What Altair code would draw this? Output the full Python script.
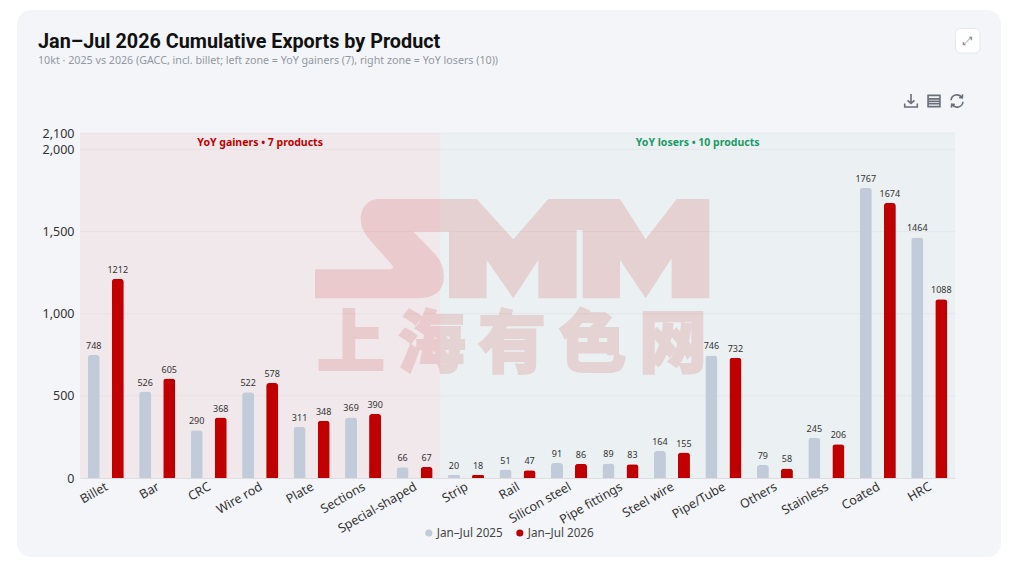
import altair as alt
import pandas as pd

categories = ["Billet", "Bar", "CRC", "Wire rod", "Plate", "Sections", "Special-shaped", "Strip", "Rail",
              "Silicon steel", "Pipe fittings", "Steel wire", "Pipe/Tube", "Others", "Stainless", "Coated", "HRC"]
values_2025 = [748, 526, 290, 522, 311, 369, 66, 20, 51, 91, 89, 164, 746, 79, 245, 1767, 1464]
values_2026 = [1212, 605, 368, 578, 348, 390, 67, 18, 47, 86, 83, 155, 732, 58, 206, 1674, 1088]
series_names = ["Jan–Jul 2025", "Jan–Jul 2026"]
series_colors = ["#C2CBD9", "#C00000"]
y_ticks = [0, 500, 1000, 1500, 2000, 2100]

W, H = 875, 345
OX, OY = 80, 133
FONT = "Noto Sans"
gain_end = W * 7 / 17


def px(x):
    return x - OX


def py(y):
    return y - OY


df = pd.DataFrame(
    [{"product": c, "series": series_names[0], "value": v} for c, v in zip(categories, values_2025)]
    + [{"product": c, "series": series_names[1], "value": v} for c, v in zip(categories, values_2026)]
)

x_enc = alt.X("product:N", sort=categories, scale=alt.Scale(domain=categories, paddingInner=0, paddingOuter=0),
              axis=alt.Axis(title=None, labelAngle=-30, labelAlign="right", labelBaseline="top", labelFontSize=12.5,
                            labelFont=FONT, labelColor="#333333", ticks=False, domainColor="#DDDDE3", labelPadding=2,
                            labelOffset=-2, labelOverlap=False, labelLimit=200, zindex=1, grid=False))
y_enc = alt.Y("value:Q", scale=alt.Scale(domain=[0, 2100], nice=False),
              axis=alt.Axis(title=None, values=y_ticks, format=",.0f", labelFontSize=12.5, labelFont=FONT,
                            labelColor="#333333", ticks=False, domain=False, grid=False, labelPadding=6, zindex=1,
                            labelOverlap=False, labelFlush=False))
off_enc = alt.XOffset("series:N", sort=series_names,
                      scale=alt.Scale(domain=series_names, paddingInner=0.5, paddingOuter=0.32))

card = alt.Chart().mark_rect(color="#F4F5F8", cornerRadius=14).encode(
    x=alt.value(px(17)), x2=alt.value(px(1001)), y=alt.value(py(10)), y2=alt.value(py(557)))

grid = alt.Chart(pd.DataFrame({"value": y_ticks[1:]})).mark_rule(color="#ECEDF1", strokeWidth=1).encode(y=y_enc)

zone_l = alt.Chart().mark_rect(color="#C00000", opacity=0.05).encode(
    x=alt.value(0), x2=alt.value(gain_end), y=alt.value(0), y2=alt.value(H))
zone_r = alt.Chart().mark_rect(color="#1A7F5A", opacity=0.04).encode(
    x=alt.value(gain_end), x2=alt.value(W), y=alt.value(0), y2=alt.value(H))

# SMM logo, traced in 3x crop coordinates of the watermark
smm_path = ("M240,57L530,57L640,178L745,57L960,57L1037,178L1130,57L1228,57L1228,355L1115,355L1115,235L1037,355"
            "L960,240L960,355L848,355L848,150L830,150L830,355L715,355L715,240L640,355L560,240L560,355L447,355"
            "L447,155L340,155L405,222Q432,252 432,290Q430,355 350,355L45,355L45,268L265,268Q290,268 270,248"
            "L205,175Q180,145 182,110Q190,57 240,57Z")
logo_half = 600
cx0, cy0 = 636, 206


def norm_path(path):
    out, is_x, num = [], True, ""
    for ch in path + " ":
        if ch.isdigit():
            num += ch
        else:
            if num:
                v = (int(num) - (cx0 if is_x else cy0)) / logo_half
                out.append(f"{v:.4f}")
                is_x = not is_x
                num = ""
            if ch != " ":
                out.append(ch)
            elif out and ch == " ":
                out.append(",")
    return "".join(out).rstrip(",")


logo = alt.Chart().mark_point(shape=norm_path(smm_path), filled=True, color="#C00000", opacity=0.13,
                              size=(2 * logo_half / 3) ** 2, strokeWidth=0).encode(
    x=alt.value(px(300 + cx0 / 3)), y=alt.value(py(180 + cy0 / 3)))

wm_chars = ["上", "海", "有", "色", "网"]
wm_layers = [
    alt.Chart().mark_text(text=c, font="Noto Sans CJK SC", fontWeight=900, fontSize=68, color="#C00000", opacity=0.12,
                          stroke="#C00000", strokeWidth=2, baseline="middle").encode(
        x=alt.value(px(351 + 80.5 * i)), y=alt.value(py(347)))
    for i, c in enumerate(wm_chars)
]

bars = alt.Chart(df).mark_bar(cornerRadiusTopLeft=3, cornerRadiusTopRight=3).encode(
    x=x_enc, xOffset=off_enc, y=y_enc,
    color=alt.Color("series:N", sort=series_names, scale=alt.Scale(domain=series_names, range=series_colors),
                    legend=alt.Legend(title=None, orient="none", legendX=px(423), legendY=py(527), direction="horizontal",
                                      symbolType="circle", symbolSize=50, labelFontSize=11.7, labelFont=FONT,
                                      labelColor="#444444", columnPadding=11, labelOffset=2, symbolStrokeWidth=0,
                                      zindex=1)))
labels = alt.Chart(df).mark_text(fontSize=9, font=FONT, color="#333333", baseline="bottom", dy=-4).encode(
    x=x_enc, xOffset=off_enc, y=y_enc, text="value:Q")

zone_text_l = alt.Chart().mark_text(font=FONT, fontSize=10.5, fontWeight="bold", color="#C00000").encode(
    x=alt.value(gain_end / 2), y=alt.value(py(142.5)), text=alt.value("YoY gainers • 7 products"))
zone_text_r = alt.Chart().mark_text(font=FONT, fontSize=10.5, fontWeight="bold", color="#1A9A66").encode(
    x=alt.value((gain_end + W) / 2), y=alt.value(py(142.5)), text=alt.value("YoY losers • 10 products"))

# expand button
btn = alt.Chart().mark_rect(color="#FFFFFF", stroke="#E6E8EE", cornerRadius=5).encode(
    x=alt.value(px(955.5)), x2=alt.value(px(980)), y=alt.value(py(28.5)), y2=alt.value(py(53)))
btn_t = alt.Chart().mark_text(text="⤢", font="DejaVu Sans", fontSize=12, color="#7A8190").encode(
    x=alt.value(px(968)), y=alt.value(py(40.5)))


def icon(path, x, y, size=14):
    return alt.Chart().mark_point(shape=path, filled=False, stroke="#2F3644", strokeWidth=1.6, size=size ** 2).encode(
        x=alt.value(px(x)), y=alt.value(py(y)))


ic_download = icon("M0,-1L0,0.35M-0.5,-0.1L0,0.35L0.5,-0.1M-0.9,0.35L-0.9,0.85L0.9,0.85L0.9,0.35", 911, 101)
ic_table = icon("M-0.85,-0.8H0.85V0.8H-0.85ZM-0.85,-0.3H0.85M-0.85,0.05H0.85M-0.85,0.4H0.85", 934, 101)
ic_refresh = icon("M-0.85,-0.1A0.85,0.85 0 0 1 0.7,-0.5M0.8,-0.95L0.75,-0.45L0.3,-0.5"
                  "M0.85,0.1A0.85,0.85 0 0 1 -0.7,0.5M-0.8,0.95L-0.75,0.45L-0.3,0.5", 957, 101)

chart = alt.layer(card, grid, zone_l, zone_r, logo, *wm_layers, bars, labels, zone_text_l, zone_text_r, btn, btn_t,
                  ic_download, ic_table, ic_refresh).properties(
    width=W, height=H,
    autosize=alt.AutoSizeParams(type="none"),
    padding={"left": OX - 8, "top": OY - 8, "right": 1008 - (OX - 8) - W, "bottom": 555 - (OY - 8) - H},
    background="#FFFFFF",
    title=alt.TitleParams(text="Jan–Jul 2026 Cumulative Exports by Product",
                          subtitle="10kt · 2025 vs 2026 (GACC, incl. billet; left zone = YoY gainers (7), right zone = YoY losers (10))",
                          anchor="start", frame="group", dx=-42, offset=-56, font="Roboto", fontSize=19.8, fontWeight="bold",
                          color="#111111", subtitleFont=FONT, subtitleFontSize=10.7, subtitleColor="#9298A3",
                          subtitlePadding=5, zindex=1),
).configure_view(stroke=None)

chart.save("out.html", embed_options={"renderer": "svg", "actions": False})
